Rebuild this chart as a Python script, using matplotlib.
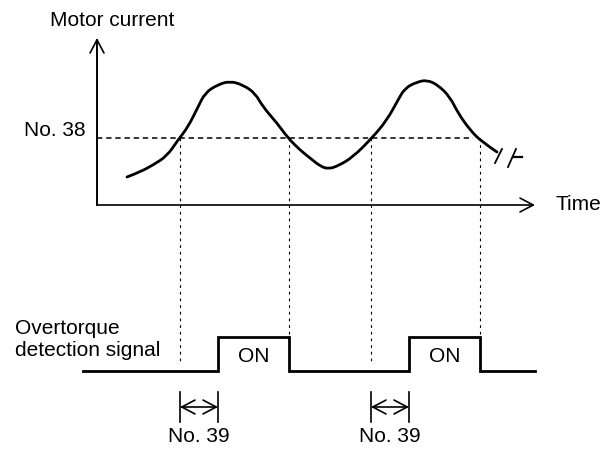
import matplotlib.pyplot as plt
from matplotlib.path import Path
from matplotlib.patches import PathPatch

plt.rcParams['font.family'] = ['Liberation Sans', 'DejaVu Sans']

# motor current curve (x = time px, y = current px, y grows downward)
curve_t = [127, 140, 153, 167, 178, 188, 198, 205, 217, 230, 243, 255, 263, 277, 288,
           300, 310, 320, 328, 338, 353, 372, 387, 398, 405, 417, 427, 438, 450, 458,
           470, 482, 497]
curve_i = [177, 172, 165, 156, 140, 127, 107, 93, 85, 81, 85, 93, 107, 123, 138,
           150, 158, 166, 169, 166, 157, 138, 120, 100, 88, 82, 80, 85, 97, 113,
           130, 142, 152]

level_38 = 138                    # No. 38 detection level
cross_up = [180, 371]             # current rises above No. 38
cross_down = [289, 480]           # current falls below No. 38
on_start = [218, 409]             # signal turns ON after No. 39 delay
on_end = [289, 480]
sig_low, sig_high = 371, 337
sig_from, sig_to = 83, 535

axis_x0, axis_y0 = 97, 205
axis_top, axis_right = 38, 535

fig = plt.figure(figsize=(6, 4.49), dpi=100)
ax = fig.add_axes([0, 0, 1, 1])
ax.set_xlim(0, 600)
ax.set_ylim(449, 0)
ax.axis('off')

fs = 15
arrow = dict(arrowstyle='->,head_length=0.95,head_width=0.5', lw=1.2,
             color='black', mutation_scale=10, shrinkA=0, shrinkB=0)

# axes
ax.plot([axis_x0, axis_x0], [axis_y0, axis_top + 2], color='black', lw=1.2)
ax.annotate('', xy=(axis_x0, axis_top), xytext=(axis_x0, axis_y0), arrowprops=arrow)
ax.annotate('', xy=(axis_right, axis_y0), xytext=(axis_x0, axis_y0), arrowprops=arrow)
ax.text(50, 20, 'Motor current', fontsize=fs, va='center', ha='left')
ax.text(555, 205, 'Time', fontsize=fs, va='center', ha='left')

# No. 38 level
ax.plot([axis_x0, 473], [level_38, level_38], color='black', lw=1.1,
        linestyle=(0, (3.5, 2.5)))
ax.text(86, 130, 'No. 38', fontsize=fs, va='center', ha='right')

# current curve, smoothed with quadratic beziers through the read points
pts = list(zip(curve_t, curve_i))
verts = [pts[0]]
codes = [Path.MOVETO]
for k in range(1, len(pts) - 1):
    nxt = pts[k + 1] if k == len(pts) - 2 else (
        (pts[k][0] + pts[k + 1][0]) / 2, (pts[k][1] + pts[k + 1][1]) / 2)
    verts += [pts[k], nxt]
    codes += [Path.CURVE3, Path.CURVE3]
ax.add_patch(PathPatch(Path(verts, codes), facecolor='none', edgecolor='black',
                       lw=2.0, capstyle='round', joinstyle='round'))

# break marks
ax.plot([495, 502], [163, 149], color='black', lw=1.3)
ax.plot([508, 516], [167, 149], color='black', lw=1.3)
ax.plot([513, 522], [157, 157], color='black', lw=1.6)

# dotted projection lines
for x in cross_up:
    ax.plot([x, x], [level_38, 364], color='black', lw=0.8, linestyle=(0, (2.5, 3.5)))
for x in cross_down:
    ax.plot([x, x], [level_38, sig_high], color='black', lw=0.8, linestyle=(0, (2.5, 3.5)))

# overtorque detection signal
sx = [sig_from]
sy = [sig_low]
for a, b in zip(on_start, on_end):
    sx += [a, a, b, b]
    sy += [sig_low, sig_high, sig_high, sig_low]
sx.append(sig_to)
sy.append(sig_low)
ax.plot(sx, sy, color='black', lw=2.0, solid_joinstyle='miter')
for a, b in zip(on_start, on_end):
    ax.text((a + b) / 2, 357, 'ON', fontsize=fs, va='center', ha='center')
ax.text(15, 328, 'Overtorque', fontsize=fs, va='center', ha='left')
ax.text(15, 350, 'detection signal', fontsize=fs, va='center', ha='left')

# No. 39 delay markers
dim = dict(arrowstyle='<->,head_length=0.95,head_width=0.5', lw=1.2,
           color='black', mutation_scale=10, shrinkA=0, shrinkB=0)
for a, b in zip(cross_up, on_start):
    ax.plot([a, a], [392, 422], color='black', lw=1.2)
    ax.plot([b, b], [392, 422], color='black', lw=1.2)
    ax.annotate('', xy=(b, 407), xytext=(a, 407), arrowprops=dim)
    ax.text((a + b) / 2, 437, 'No. 39', fontsize=fs, va='center', ha='center')

fig.savefig('out.png', dpi=100)
